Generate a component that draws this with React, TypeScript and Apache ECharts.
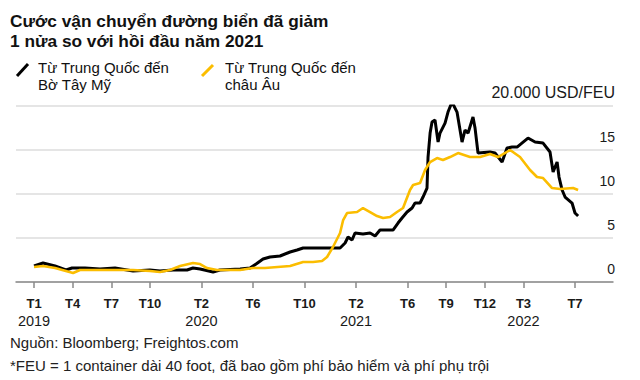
import React, { useEffect, useRef } from 'react';
import * as echarts from 'echarts';

const titleLines = ['Cước vận chuyển đường biển đã giảm', '1 nửa so với hồi đầu năm 2021'];
const seriesNames = ['Từ Trung Quốc đến\nBờ Tây Mỹ', 'Từ Trung Quốc đến\nchâu Âu'];
const unitLabel = '20.000 USD/FEU';
const sourceLines = [
  'Nguồn: Bloomberg; Freightos.com',
  '*FEU = 1 container dài 40 foot, đã bao gồm phí bảo hiểm và phí phụ trội',
];

// x positions: months since January 2019
const tickMonths = [0, 3, 6, 9, 13, 17, 21, 25, 29, 32, 35, 38, 42];
const tickMonthLabels = ['T1', 'T4', 'T7', 'T10', 'T2', 'T6', 'T10', 'T2', 'T6', 'T9', 'T12', 'T3', 'T7'];
const tickYearLabels = ['2019', '', '', '', '2020', '', '', '2021', '', '', '', '2022', ''];

const westCoastMonths = [
  0, 0.7, 1.63, 2.48, 2.95, 3.96, 5.12, 6.29, 7.69, 9.0, 9.78, 10.79, 11.88, 12.34, 12.89, 13.9, 14.44,
  16.0, 16.77, 17.24, 17.78, 18.32, 19.1, 19.88, 20.42, 20.89, 23.76, 24.15, 24.38, 24.69, 24.92, 25.54,
  26.09, 26.48, 26.86, 27.87, 28.26, 28.57, 28.96, 29.35, 29.58, 29.97, 30.2, 30.51, 30.59, 30.75, 30.9,
  31.13, 31.37, 31.52, 31.91, 32.14, 32.45, 32.84, 33.23, 33.46, 33.7, 34.08, 34.24, 34.47, 35.4, 35.79,
  36.34, 36.72, 37.11, 37.5, 38.35, 38.9, 39.52, 40.06, 40.3, 40.61, 40.76, 41.0, 41.23, 41.77, 42.0, 42.24,
];
const westCoastValues = [
  1818, 2160, 1818, 1363, 1590, 1590, 1477, 1590, 1250, 1363, 1250, 1363, 1363, 1590, 1477, 1136, 1363,
  1477, 1590, 2045, 2613, 2840, 2954, 3408, 3635, 3862, 3862, 4430, 5112, 4771, 5566, 5453,
  5566, 5226, 5907, 5907, 6702, 7270, 7952, 8406, 8974, 8974, 9656, 10678, 14200, 16926, 18176,
  18403, 15904, 16926, 18062, 19312, 20448, 19312, 15904, 17267, 16926, 18744, 17494, 14654, 14768, 14654,
  13632, 15222, 15336, 15336, 16358, 15904, 15790, 14768, 12496, 13632, 11928, 10451, 9656, 8974, 7838, 7498,
];

const europeMonths = [
  0, 0.7, 1.63, 3.03, 3.57, 5.12, 6.44, 7.69, 9.0, 9.78, 10.56, 11.34, 12.34, 12.89, 13.43, 14.21, 16.0,
  17.0, 17.93, 19.88, 20.89, 21.66, 22.36, 22.75, 23.21, 23.76, 24.0, 24.3, 25.08, 25.54, 26.09, 26.63,
  27.1, 27.64, 28.18, 28.65, 29.19, 29.43, 29.97, 30.36, 30.75, 31.29, 31.75, 32.3, 32.92, 33.85, 34.63,
  35.4, 36.02, 36.96, 37.73, 38.51, 39.05, 39.52, 40.22, 40.84, 41.85, 42.24,
];
const europeValues = [
  1704, 1818, 1590, 1022, 1363, 1363, 1363, 1363, 1250, 1136, 1363, 1818, 2160, 2045, 1590, 1363, 1363,
  1590, 1590, 1818, 2272, 2272, 2386, 2840, 3976, 5566, 7043, 7838, 7952, 8406, 7952, 7498,
  7270, 7384, 7952, 8406, 10451, 11019, 11246, 12723, 13632, 14086, 13859, 14200, 14654, 14200, 14200,
  14540, 14200, 14995, 14200, 12723, 11928, 11814, 10678, 10565, 10678, 10451,
];

const FONT = '"Liberation Sans", Arial, Helvetica, sans-serif';
const BLACK = '#000000';
const YELLOW = '#fbbd00';

export default function App() {
  const ref = useRef<HTMLDivElement>(null);

  useEffect(() => {
    if (!ref.current) return;
    const chart = echarts.init(ref.current, undefined, { renderer: 'svg' });

    const west = westCoastMonths.map((m, i) => [m, westCoastValues[i]]);
    const europe = europeMonths.map((m, i) => [m, europeValues[i]]);

    const option: any = {
      animation: false,
      backgroundColor: '#ffffff',
      textStyle: { fontFamily: FONT },
      grid: { left: 16, right: 27, top: 106, bottom: 98 },
      xAxis: {
        type: 'value',
        min: -1.4,
        max: 44.95,
        axisLine: { show: true, onZero: false, lineStyle: { color: '#8a8a8a', width: 1.5 } },
        axisTick: { show: true, customValues: tickMonths, length: 6, lineStyle: { color: '#8a8a8a', width: 1.5 } },
        splitLine: { show: false },
        axisLabel: {
          customValues: tickMonths,
          margin: 12,
          formatter: (v: number) => {
            const i = tickMonths.findIndex((t) => Math.abs(t - v) < 1e-6);
            if (i < 0) return '';
            const y = tickYearLabels[i];
            return y ? `{m|${tickMonthLabels[i]}}\n{y|${y}}` : `{m|${tickMonthLabels[i]}}`;
          },
          rich: {
            m: { fontFamily: FONT, fontSize: 13, fontWeight: 'bold', color: '#1a1a1a', lineHeight: 18 },
            y: { fontFamily: FONT, fontSize: 14.5, color: '#1a1a1a', lineHeight: 18 },
          },
        },
      },
      yAxis: {
        type: 'value',
        position: 'right',
        min: 0,
        max: 20000,
        interval: 5000,
        axisLine: { show: false },
        axisTick: { show: false },
        splitLine: { show: true, lineStyle: { color: '#dcdcdc', width: 1.5 } },
        axisLabel: {
          inside: true,
          margin: -2,
          verticalAlign: 'bottom',
          padding: [0, 0, 6, 0],
          fontFamily: FONT,
          fontSize: 14,
          color: '#1a1a1a',
          formatter: (v: number) => (v === 20000 ? `{u|${unitLabel}}` : String(v / 1000)),
          rich: { u: { fontFamily: FONT, fontSize: 16, color: '#1a1a1a' } },
        },
      },
      series: [
        {
          name: seriesNames[0],
          type: 'line',
          data: west,
          showSymbol: false,
          lineStyle: { color: BLACK, width: 3 },
          z: 2,
        },
        {
          name: seriesNames[1],
          type: 'line',
          data: europe,
          showSymbol: false,
          lineStyle: { color: YELLOW, width: 2.6 },
          z: 3,
        },
      ],
      graphic: [
        {
          type: 'text',
          x: 10,
          y: 11,
          style: {
            text: titleLines.join('\n'),
            font: `bold 17.3px ${FONT}`,
            lineHeight: 20,
            verticalAlign: 'top',
            fill: '#111',
          },
        },
        {
          type: 'line',
          shape: { x1: 17, y1: 76, x2: 28, y2: 64 },
          style: { stroke: BLACK, lineWidth: 3 },
        },
        {
          type: 'text',
          x: 38,
          y: 59,
          style: { text: seriesNames[0], font: `15px ${FONT}`, lineHeight: 17, verticalAlign: 'top', fill: '#111' },
        },
        {
          type: 'line',
          shape: { x1: 202, y1: 76, x2: 213, y2: 65 },
          style: { stroke: YELLOW, lineWidth: 3 },
        },
        {
          type: 'text',
          x: 225,
          y: 59,
          style: { text: seriesNames[1], font: `15px ${FONT}`, lineHeight: 17, verticalAlign: 'top', fill: '#111' },
        },
        {
          type: 'text',
          x: 10,
          y: 335,
          style: { text: sourceLines[0], font: `15px ${FONT}`, verticalAlign: 'top', fill: '#222' },
        },
        {
          type: 'text',
          x: 10,
          y: 358,
          style: { text: sourceLines[1], font: `15px ${FONT}`, verticalAlign: 'top', fill: '#222' },
        },
      ],
    };

    chart.setOption(option);
    return () => chart.dispose();
  }, []);

  return <div ref={ref} style={{ position: 'fixed', left: 0, top: 0, width: 640, height: 380 }} />;
}
